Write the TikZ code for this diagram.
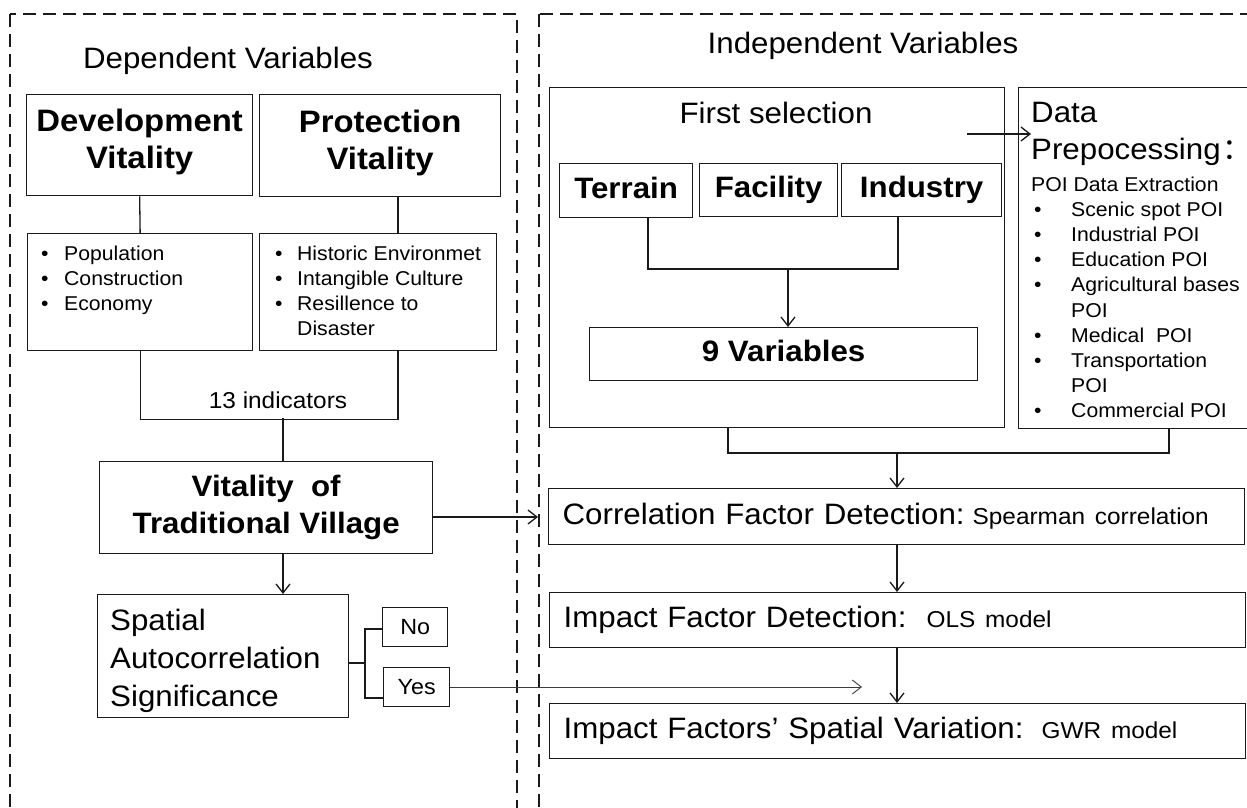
\documentclass[tikz,border=0pt]{standalone}
\usepackage{fontspec}
\setmainfont{Liberation Sans}[FakeStretch=1.06]
\newfontfamily\cjk{Noto Sans CJK SC}
\usetikzlibrary{arrows.meta}
\definecolor{linecol}{HTML}{1A1A1A}
\newcommand{\fsBig}{\fontsize{29.5}{37}\selectfont}
\newcommand{\fsHead}{\fontsize{31}{37}\selectfont}
\newcommand{\fsMid}{\fontsize{23}{28}\selectfont}
\newcommand{\fsSmall}{\fontsize{20}{25}\selectfont}
\newcommand{\bul}[1]{\makebox[#1][l]{•}}
\begin{document}
\begin{tikzpicture}[x=1pt,y=-1pt,
  box/.style={draw=linecol, line width=1.3pt, inner sep=0pt, anchor=north west},
  conn/.style={draw=linecol, line width=1.3pt},
  arr/.style={conn, -{Straight Barb[length=9pt,width=14pt]}},
  arrthin/.style={draw=linecol!85, line width=0.9pt, -{Straight Barb[length=9pt,width=14pt]}},
  dashbox/.style={draw=linecol, line width=1.8pt, dash pattern=on 13pt off 7pt},
  txt/.style={inner sep=0pt},
  center1/.style={text height=21.5pt, text depth=6.2pt}
]
\useasboundingbox (0,0) rectangle (1247,808);
\fill[white] (0,0) rectangle (1247,808);
\clip (0,0) rectangle (1247,808);

% dashed frames
\draw[dashbox] (10,14) rectangle (517,840);
\draw[dashbox] (539,14) rectangle (1270,840);

% titles
\node[txt, anchor=base, font=\fsBig] (deptitle) at (228,68) {Dependent Variables};
\node[txt, anchor=base, font=\fsBig] (indtitle) at (863,54) {Independent Variables};

% ---------- left side ----------
\node[box, minimum width=226pt, minimum height=101pt, font=\fsHead\bfseries, align=center] (dev) at (26,94) {Development\\Vitality\rule[-12pt]{0pt}{0pt}};
\node[box, minimum width=241pt, minimum height=102pt, font=\fsHead\bfseries, align=center] (prot) at (259,94) {Protection\\Vitality\rule[-12pt]{0pt}{0pt}};

\node[box, minimum width=225pt, minimum height=117pt] (dind) at (27,233) {};
\node[box, minimum width=237pt, minimum height=117pt] (pind) at (259,233) {};
\node[txt, anchor=base west, font=\fsSmall] (dindT) at (41,260)
  {\begin{tabular}[t]{@{}l@{}}\bul{23pt}Population\\ \bul{23pt}Construction\\ \bul{23pt}Economy\end{tabular}};
\node[txt, anchor=base west, font=\fsSmall] (pindT) at (275,260)
  {\begin{tabular}[t]{@{}l@{}}\bul{22pt}Historic Environmet\\ \bul{22pt}Intangible Culture\\ \bul{22pt}Resillence to\\ \hspace*{22pt}Disaster\end{tabular}};

\coordinate (pl) at (398,0);
\draw[conn] (dev.south) -- (dind.north);
\draw[conn] (pl |- prot.south) -- (pl |- pind.north);
\draw[conn] (dind.south) -- ++(0,68) -| (pl |- pind.south);
\node[txt, anchor=base, font=\fontsize{23}{27}\selectfont] (ind13) at (278,408) {13 indicators};

\node[box, minimum width=333pt, minimum height=92pt, font=\fsBig\bfseries, align=center] (vit) at (99,461) {Vitality\ \ of\\Traditional Village};
\coordinate (jx) at (283,418);
\draw[conn] (jx) -- (jx |- vit.north);

\node[box, minimum width=251pt, minimum height=123pt] (spat) at (97,594) {};
\node[txt, anchor=base west, font=\fontsize{29.5}{38}\selectfont] (spatT) at (110,630)
  {\begin{tabular}[t]{@{}l@{}}Spatial\\Autocorrelation\\Significance\end{tabular}};
\draw[arr] (jx |- vit.south) -- (jx |- spat.north);

\node[box, minimum width=65pt, minimum height=39pt, font=\fontsize{22}{26}\selectfont, center1] (no) at (382,607) {No};
\node[box, minimum width=66pt, minimum height=39pt, font=\fontsize{22}{26}\selectfont, center1] (yes) at (383,667) {Yes};
\coordinate (br) at (365,663);
\coordinate (bn) at (365,629);
\coordinate (by) at (365,698);
\draw[conn] (br -| spat.east) -- (br);
\draw[conn] (bn -| no.west) -- (bn) -- (by) -- (by -| yes.west);

\coordinate (yend) at (862,687);
\draw[arrthin] (yes.east |- yend) -- (yend);

\coordinate (cend) at (538,517);
\draw[arr] (cend -| vit.east) -- (cend);

% ---------- right side ----------
\node[box, minimum width=455pt, minimum height=340pt] (first) at (549,87) {};
\node[txt, anchor=base, font=\fsBig] (firstT) at (776,123) {First selection};

\node[box, minimum width=133pt, minimum height=54pt, font=\fsBig\bfseries, center1] (ter) at (559,163) {Terrain};
\node[box, minimum width=138pt, minimum height=53pt, font=\fsBig\bfseries, center1] (fac) at (699,163) {Facility};
\node[box, minimum width=160pt, minimum height=53pt, font=\fsBig\bfseries, center1] (ind) at (841,163) {Industry};
\node[box, minimum width=388pt, minimum height=53pt, font=\fsBig\bfseries, center1] (nine) at (589,327) {9 Variables};

\coordinate (tx) at (648,269);
\coordinate (ix) at (898,269);
\coordinate (vx) at (788,269);
\draw[conn] (tx |- ter.south) -- (tx) -- (ix) -- (ix |- ind.south);
\draw[arr] (vx) -- (vx |- nine.north);

\node[box, minimum width=260pt, minimum height=341pt] (data) at (1018,87) {};
\node[txt, anchor=base west, font=\fontsize{29.5}{37.5}\selectfont] (dataT) at (1031,122)
  {\begin{tabular}[t]{@{}l@{}}Data\\Prepocessing\hspace{2pt}\makebox[12pt][l]{\cjk ：}\end{tabular}};
\node[txt, anchor=base west, font=\fontsize{20}{25.2}\selectfont] (poiT) at (1031,191)
  {\begin{tabular}[t]{@{}l@{}}POI Data Extraction\\
  \hspace*{3pt}\bul{37pt}Scenic spot POI\\
  \hspace*{3pt}\bul{37pt}Industrial POI\\
  \hspace*{3pt}\bul{37pt}Education POI\\
  \hspace*{3pt}\bul{37pt}Agricultural bases\\
  \hspace*{40pt}POI\\
  \hspace*{3pt}\bul{37pt}Medical\ \ POI\\
  \hspace*{3pt}\bul{37pt}Transportation\\
  \hspace*{40pt}POI\\
  \hspace*{3pt}\bul{37pt}Commercial POI\end{tabular}};

\coordinate (da1) at (967,134);
\coordinate (da2) at (1031,134);
\draw[arr] (da1) -- (da2);

\coordinate (fx) at (728,453);
\coordinate (dx) at (1169,453);
\coordinate (cx) at (897,453);
\draw[conn] (fx |- first.south) -- (fx) -- (dx) -- (dx |- data.south);

\node[box, minimum width=696pt, minimum height=56pt, text width=668pt, inner xsep=14pt, align=left, font=\fsBig, center1] (corr) at (548,488)
  {Correlation Factor Detection:\hspace{8pt}{\fsMid Spearman correlation}};
\node[box, minimum width=696pt, minimum height=55pt, text width=668pt, inner xsep=14pt, align=left, font=\fsBig, center1] (imp) at (549,592)
  {Impact Factor Detection:\hspace{20pt}{\fsMid OLS model}};
\node[box, minimum width=696pt, minimum height=55pt, text width=668pt, inner xsep=14pt, align=left, font=\fsBig, center1] (gwr) at (549,703)
  {Impact Factors’ Spatial Variation:\hspace{18pt}{\fsMid GWR model}};

\draw[arr] (cx) -- (cx |- corr.north);
\draw[arr] (cx |- corr.south) -- (cx |- imp.north);
\draw[arr] (cx |- imp.south) -- (cx |- gwr.north);
\end{tikzpicture}
\end{document}
